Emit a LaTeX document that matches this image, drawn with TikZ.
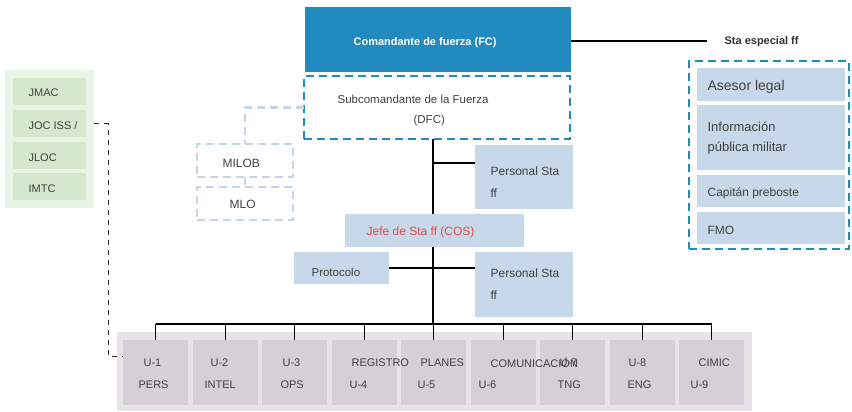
\documentclass[tikz,border=0pt]{standalone}
\usepackage{fontspec}
\setmainfont{Liberation Sans}
\usetikzlibrary{positioning}

\definecolor{fcblue}{RGB}{33,139,192}
\definecolor{stblue}{RGB}{199,216,234}
\definecolor{ltdash}{RGB}{197,213,232}
\definecolor{grnbg}{RGB}{234,244,230}
\definecolor{grnbox}{RGB}{213,232,206}
\definecolor{graybg}{RGB}{231,228,232}
\definecolor{unitbox}{RGB}{213,208,216}
\definecolor{cosred}{RGB}{232,72,74}
\definecolor{txtgray}{RGB}{64,64,64}

\tikzset{
  box/.style={rectangle, inner sep=0pt, outer sep=0pt, anchor=north west},
  txt/.style={anchor=west, inner sep=0pt, text=txtgray, font=\fontsize{12}{14}\selectfont},
  small/.style={font=\fontsize{11}{13}\selectfont},
  bluedash/.style={draw=fcblue, line width=2.5pt, dash pattern=on 8pt off 5pt},
  ltline/.style={draw=ltdash, line width=2.5pt, dash pattern=on 8pt off 5pt},
  blkdash/.style={draw=black!85, line width=1pt, dash pattern=on 5pt off 5pt},
  stbox/.style={box, fill=stblue},
  unit/.style={box, fill=unitbox, minimum width=65, minimum height=65},
  grbox/.style={box, fill=grnbox, minimum width=73, minimum height=27}
}

\begin{document}
\begin{tikzpicture}[x=1pt, y=-1pt, line width=1.2pt]
    \useasboundingbox (0,0) rectangle (852,412);

    % panels
    \node[box, fill=grnbg, minimum width=89, minimum height=138] (grn) at (5,70) {};
    \node[box, fill=graybg, minimum width=635, minimum height=79] (grey) at (117,332) {};

    % command
    \node[box, fill=fcblue, minimum width=266, minimum height=65] (fc) at (305,7) {};
    \node[txt, text=white, font=\bfseries\fontsize{11}{13}\selectfont] (fc-t) at (353,43) {Comandante de fuerza (FC)};
    \node[txt, text=black!80, font=\bfseries\fontsize{11}{13}\selectfont] (sta) at (724,42) {Sta especial ff};

    \node[box, bluedash, minimum width=266, minimum height=63] (dfc) at (304,76) {};
    \node[txt, font=\fontsize{11.5}{13}\selectfont] (dfc-t1) at (337,99) {Subcomandante de la Fuerza};
    \node[txt, font=\fontsize{11.5}{13}\selectfont] (dfc-t2) at (413,121) {(DFC)};

    \node[box, ltline, minimum width=96, minimum height=33] (milob) at (197,144) {};
    \node[txt] (milob-t) at (222,163) {MILOB};
    \node[box, ltline, minimum width=96, minimum height=33] (mlo) at (197,187) {};
    \node[txt] (mlo-t) at (229,204) {MLO};

    \node[stbox, minimum width=98, minimum height=64] (ps1) at (475,145) {};
    \node[txt] (ps1-t1) at (490,171) {Personal Sta};
    \node[txt] (ps1-t2) at (490,193) {ff};

    \node[stbox, minimum width=95, minimum height=32] (proto) at (294,252) {};
    \node[txt, font=\fontsize{11.5}{13}\selectfont] (proto-t) at (311,272) {Protocolo};
    \node[stbox, minimum width=98, minimum height=65] (ps2) at (475,252) {};
    \node[txt] (ps2-t1) at (490,273) {Personal Sta};
    \node[txt] (ps2-t2) at (490,295) {ff};

    % special staff
    \node[box, bluedash, minimum width=160, minimum height=188] (spec) at (689,61) {};
    \node[stbox, minimum width=148, minimum height=33] (legal) at (697,68) {};
    \node[txt, font=\fontsize{14}{16}\selectfont] (legal-t) at (707,87) {Asesor legal};
    \node[stbox, minimum width=148, minimum height=65] (pio) at (697,105) {};
    \node[txt, font=\fontsize{13}{15}\selectfont] (pio-t1) at (707,127) {Información};
    \node[txt, font=\fontsize{13}{15}\selectfont] (pio-t2) at (707,148) {pública militar};
    \node[stbox, minimum width=148, minimum height=32] (pm) at (697,175) {};
    \node[txt] (pm-t) at (707,193) {Capitán preboste};
    \node[stbox, minimum width=148, minimum height=32] (fmo) at (697,212) {};
    \node[txt] (fmo-t) at (707,230) {FMO};

    % green cells
    \node[grbox] (jmac) at (13,78) {};
    \node[txt, small] (jmac-t) at (28,93) {JMAC};
    \node[grbox] (joc) at (13,110) {};
    \node[txt, small] (joc-t) at (28,126) {JOC ISS /};
    \node[grbox] (jloc) at (13,142) {};
    \node[txt, small] (jloc-t) at (28,158) {JLOC};
    \node[grbox] (imtc) at (13,173) {};
    \node[txt, small] (imtc-t) at (28,189) {IMTC};

    % units
    \node[unit] (u1) at (123,340) {};
    \node[unit] (u2) at (193,340) {};
    \node[unit] (u3) at (262,340) {};
    \node[unit] (u4) at (332,340) {};
    \node[unit] (u5) at (401,340) {};
    \node[unit] (u6) at (471,340) {};
    \node[unit] (u7) at (540,340) {};
    \node[unit] (u8) at (610,340) {};
    \node[unit] (u9) at (679,340) {};

    \node[txt, small] (u1-a) at (143,363) {U-1};
    \node[txt, small] (u1-b) at (138,385) {PERS};
    \node[txt, small] (u2-a) at (210,363) {U-2};
    \node[txt, small] (u2-b) at (204,385) {INTEL};
    \node[txt, small] (u3-a) at (282,363) {U-3};
    \node[txt, small] (u3-b) at (280,385) {OPS};
    \node[txt, small] (u4-a) at (351,363) {REGISTRO};
    \node[txt, small] (u4-b) at (349,385) {U-4};
    \node[txt, small] (u5-a) at (420,363) {PLANES};
    \node[txt, small] (u5-b) at (417,385) {U-5};
    \node[txt, small] (u6-a) at (490,363) {COMUNICACIÓN};
    \node[txt, small] (u6-b) at (478,385) {U-6};
    \node[txt, small] (u7-a) at (559,363) {U-7};
    \node[txt, small] (u7-b) at (557,385) {TNG};
    \node[txt, small] (u8-a) at (628,363) {U-8};
    \node[txt, small] (u8-b) at (627,385) {ENG};
    \node[txt, small] (u9-a) at (698,363) {CIMIC};
    \node[txt, small] (u9-b) at (690,385) {U-9};

    % connectors
    \coordinate (bus) at (433,324);
    \coordinate (br1) at (433,163);
    \coordinate (fcr) at (571,41);
    \draw (fcr) -- ([xshift=-17pt]sta.west |- fcr);
    \draw (dfc.south -| bus) -- (bus);
    \draw (br1) -- (br1 -| ps1.west);
    \draw (proto.east) -- (proto.east -| ps2.west);
    \draw (u1.north |- bus) -- (u9.north |- bus);
    \draw (u1.north) -- (u1.north |- bus);
    \draw (u2.north) -- (u2.north |- bus);
    \draw (u3.north) -- (u3.north |- bus);
    \draw (u4.north) -- (u4.north |- bus);
    \draw (u5.north) -- (u5.north |- bus);
    \draw (u6.north) -- (u6.north |- bus);
    \draw (u7.north) -- (u7.north |- bus);
    \draw (u8.north) -- (u8.north |- bus);
    \draw (u9.north) -- (u9.north |- bus);
    \draw[ltline] (dfc.west) -| (milob.north);
    \draw[ltline] (milob.south) -- (mlo.north);
    \draw[blkdash] (grn.east |- joc.east) -- ++(14,0) |- ([yshift=-16pt]u1.north west);

    % chief of staff on top of the trunk
    \node[stbox, minimum width=179, minimum height=33] (cos) at (345,214) {};
    \node[txt, text=cosred] (cos-t) at (366,232) {Jefe de Sta ff (COS)};
\end{tikzpicture}
\end{document}
